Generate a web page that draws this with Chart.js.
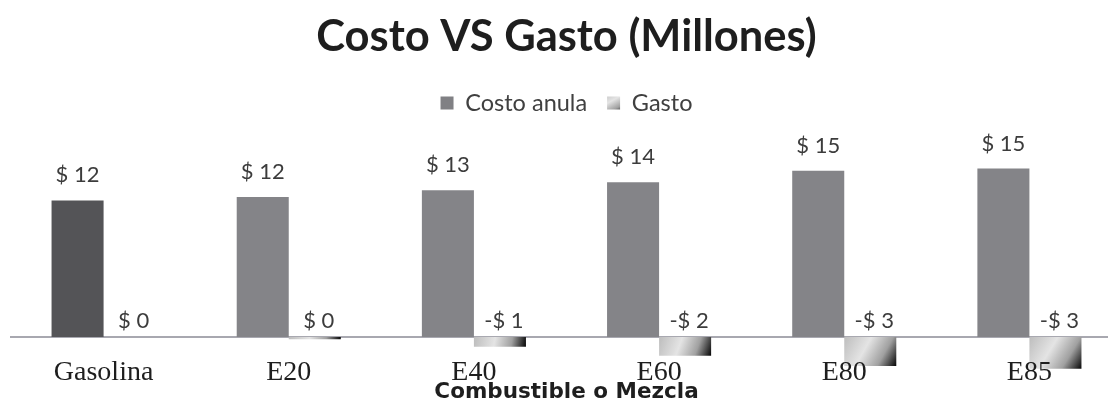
<!DOCTYPE html>
<html>
<head>
<meta charset="utf-8">
<script src="https://cdn.jsdelivr.net/npm/chart.js@4"></script>
<style>
  html, body { margin: 0; padding: 0; background: #fff; overflow: hidden; }
  #wrap { width: 1134px; height: 399px; }
</style>
</head>
<body>
<div id="wrap"><canvas id="costoChart" width="1134" height="399"></canvas></div>
<script>
var categorias = ["Gasolina", "E20", "E40", "E60", "E80", "E85"];
var costoAnual = [12.0, 12.3, 12.9, 13.6, 14.6, 14.8];
var gasto = [0, -0.2, -0.85, -1.65, -2.55, -2.8];

var grupo = 0.562; // share of each category used by the two bars

function formato(v) {
  var r = Math.round(v);
  return r < 0 ? "-$ " + -r : "$ " + r;
}

function degradado(ctx, x0, y0, x1, y1) {
  var g = ctx.createLinearGradient(x0, y0, x1, y1);
  g.addColorStop(0, "#bdbdbd");
  g.addColorStop(0.4, "#e4e4e4");
  g.addColorStop(0.72, "#a0a0a0");
  g.addColorStop(1, "#050505");
  return g;
}

function rellenoGasto(c) {
  var chart = c.chart;
  if (!chart.chartArea || c.type !== "data") return "#bdbdbd";
  var xs = chart.scales.x, ys = chart.scales.y;
  var cx = xs.getPixelForValue(c.dataIndex);
  var w = (xs.width / categorias.length) * grupo / 2;
  var y0 = ys.getPixelForValue(0);
  var y1 = ys.getPixelForValue(c.raw);
  if (Math.abs(y1 - y0) < 1) y1 = y0 + 1;
  return degradado(chart.ctx, cx, y0, cx + w, y1);
}

var etiquetas = {
  id: "etiquetas",
  beforeDraw(chart) {
    var lg = chart.legend;
    if (!lg || !lg.legendHitBoxes[1]) return;
    var hb = lg.legendHitBoxes[1];
    lg.legendItems[1].fillStyle = degradado(chart.ctx, hb.left, hb.top, hb.left + 13, hb.top + hb.height);
  },
  afterDatasetsDraw(chart) {
    var ctx = chart.ctx;
    var y0 = chart.scales.y.getPixelForValue(0);
    ctx.save();
    ctx.font = "22px Lato";
    ctx.fillStyle = "#3c3c3c";
    ctx.textAlign = "center";
    ctx.textBaseline = "middle";
    chart.data.datasets.forEach(function (ds, i) {
      chart.getDatasetMeta(i).data.forEach(function (bar, j) {
        var y = i === 0 ? bar.y - 25 : y0 - 16;
        ctx.fillText(formato(ds.data[j]), bar.x + (i === 0 ? 0 : 4), y);
      });
    });
    ctx.restore();
  }
};

new Chart("costoChart", {
  type: "bar",
  data: {
    labels: categorias,
    datasets: [
      {
        label: "Costo anula",
        data: costoAnual,
        backgroundColor: ["#545457", "#848488", "#848488", "#848488", "#848488", "#848488"],
      },
      {
        label: "Gasto",
        data: gasto,
        backgroundColor: rellenoGasto,
        clip: false,
      },
    ],
  },
  options: {
    responsive: false,
    animation: false,
    categoryPercentage: grupo,
    barPercentage: 1,
    layout: { padding: { left: 11, right: 12, top: 11 } },
    plugins: {
      tooltip: { enabled: false },
      title: {
        display: true,
        text: "Costo VS Gasto (Millones)",
        color: "#1e1e1e",
        font: { family: "Lato", size: 43.5, weight: "bold", lineHeight: 1.2 },
        padding: { top: 0, bottom: 8 },
      },
      legend: {
        labels: {
          boxWidth: 13,
          boxHeight: 13,
          color: "#404040",
          font: { family: "Lato", size: 23.5 },
          padding: 20,
          generateLabels: function (chart) {
            var items = Chart.defaults.plugins.legend.labels.generateLabels(chart);
            items[0].fillStyle = "#808084";
            items[0].lineWidth = 0;
            items[1].lineWidth = 0;
            return items;
          },
        },
      },
    },
    scales: {
      y: {
        display: false,
        min: 0,
        max: 18.65,
      },
      x: {
        grid: { display: false, drawTicks: false },
        border: { color: "#a8a8b0", width: 2 },
        ticks: {
          z: 1,
          padding: 22,
          color: "#1e1e1e",
          font: { family: "Liberation Serif", size: 28, lineHeight: 1 },
        },
        title: {
          display: true,
          text: "Combustible o Mezcla",
          color: "#1e1e1e",
          font: { family: "DejaVu Sans", size: 21.5, weight: "bold", lineHeight: 1 },
          padding: { top: 0, bottom: -4 },
        },
        afterFit: function (scale) {
          scale.height = 62;
        },
      },
    },
  },
  plugins: [etiquetas],
});
</script>
</body>
</html>
